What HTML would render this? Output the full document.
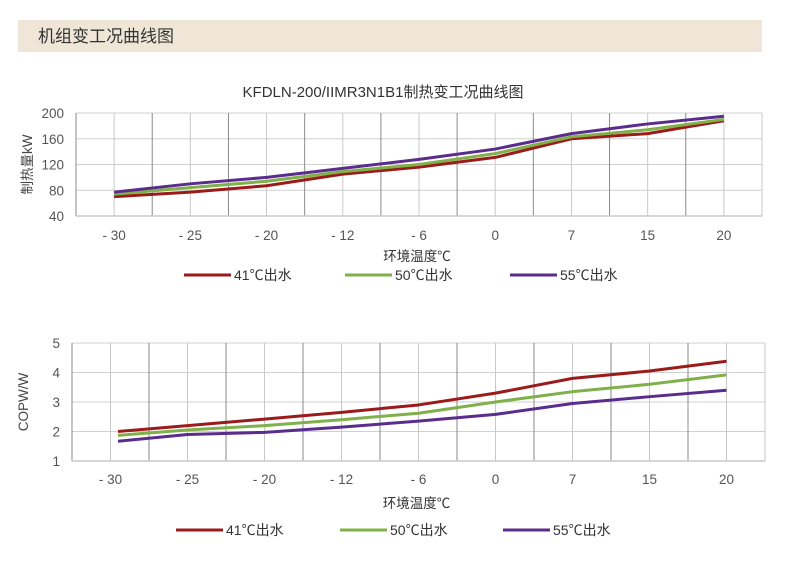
<!DOCTYPE html>
<html><head><meta charset="utf-8"><style>
body{margin:0;background:#fff;width:800px;height:575px;overflow:hidden;font-family:"Liberation Sans","Noto Sans CJK SC",sans-serif}
</style></head><body>
<svg id="s" width="800" height="575" xmlns="http://www.w3.org/2000/svg" font-family="Liberation Sans, Noto Sans CJK SC, sans-serif">
<rect x="18" y="20" width="744" height="32" fill="#efe6d8"/>
<text x="38" y="42" font-size="17" fill="#333">机组变工况曲线图</text>
<text x="383" y="97" font-size="15" fill="#333" text-anchor="middle">KFDLN-200/IIMR3N1B1制热变工况曲线图</text>
</svg>
<script>
const s=document.getElementById('s');const NS='http://www.w3.org/2000/svg';
function el(t,a,txt){const e=document.createElementNS(NS,t);for(const k in a)e.setAttribute(k,a[k]);if(txt!==undefined)e.textContent=txt;s.appendChild(e);return e;}
const cats=['- 30','- 25','- 20','- 12','- 6','0','7','15','20'];
const cols=['#9b1b1b','#7fb04a','#5a2d8c'];
const names=['41℃出水','50℃出水','55℃出水'];
function chart(o){
 const {x0,x1,yt,yb,vmin,vmax,step,data,ylab,firstX,labY,titleY,legY,legX}=o;
 const w=(x1-x0)/9;const Y=v=>yb-(v-vmin)/(vmax-vmin)*(yb-yt);
 for(let v=vmin;v<=vmax+1e-9;v+=step){
   if(v>vmin)el('line',{x1:x0,x2:x1,y1:Y(v),y2:Y(v),stroke:'#d0d0d0','stroke-width':1});
   el('text',{x:x0-12,y:Y(v)+5,'font-size':13.5,fill:'#555','text-anchor':'end'},String(v));
 }
 for(let k=0;k<=18;k++){const x=x0+k*w/2;
   el('line',{x1:x,x2:x,y1:yt,y2:yb,stroke:(k%2||k==18)?'#c8c8c8':'#8a8a8a','stroke-width':1});}
 el('line',{x1:x0,x2:x1,y1:yb,y2:yb,stroke:'#c8c8c8','stroke-width':1.5});
 cats.forEach((c,i)=>el('text',{x:x0+w*(i+.5),y:labY,'font-size':13.5,fill:'#555','text-anchor':'middle'},c));
 el('text',{x:(x0+x1)/2-2,y:titleY,'font-size':13.5,fill:'#333','text-anchor':'middle'},'环境温度℃');
 el('text',{transform:`translate(${x0-44},${(yt+yb)/2}) rotate(-90)`,'font-size':13.5,fill:'#444','text-anchor':'middle'},ylab);
 data.forEach((d,j)=>{const pts=d.map((v,i)=>[(i==0&&firstX)?firstX:x0+w*(i+.5),Y(v)]);
   el('polyline',{points:pts.map(p=>p.join(',')).join(' '),fill:'none',stroke:cols[j],'stroke-width':3,'stroke-linejoin':'round'});});
 names.forEach((n,j)=>{const lx=legX[j];
   el('line',{x1:lx,x2:lx+47,y1:legY-5,y2:legY-5,stroke:cols[j],'stroke-width':3});
   el('text',{x:lx+50,y:legY,'font-size':14,fill:'#333'},n);});
}
chart({x0:76,x1:762,yt:113,yb:216,vmin:40,vmax:200,step:40,ylab:'制热量kW',labY:240,titleY:261,legY:280,legX:[184,345,510],
 data:[[70,77,87,105,116,131,160,168,188],[74,84,94,109,120,137,163,174,190],[77,90,100,114,128,144,168,183,195]]});
chart({x0:72,x1:765,yt:343,yb:461,vmin:1,vmax:5,step:1,ylab:'COPW/W',labY:484,titleY:508,legY:535,legX:[176,340,503],firstX:118,
 data:[[2.0,2.2,2.42,2.65,2.9,3.3,3.8,4.05,4.38],[1.87,2.05,2.2,2.4,2.62,3.0,3.35,3.6,3.92],[1.67,1.9,1.97,2.15,2.35,2.58,2.95,3.18,3.4]]});
</script>
</body></html>
